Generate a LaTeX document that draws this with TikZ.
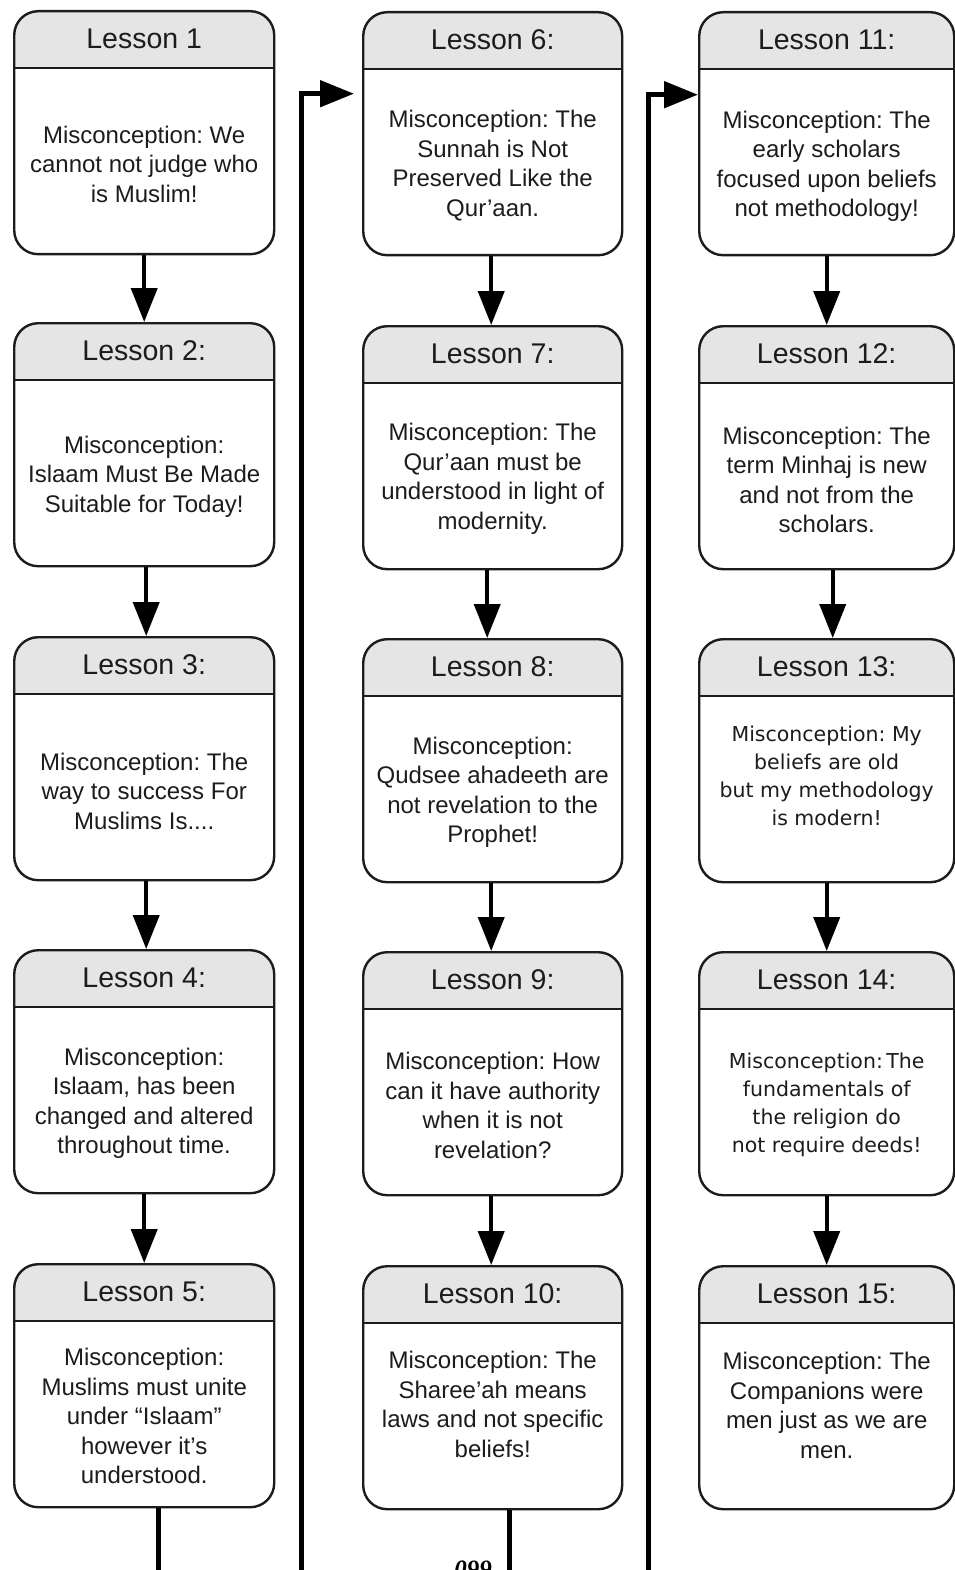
\documentclass[tikz,border=0pt]{standalone}
\usepackage{fontspec}
\setmainfont{Liberation Sans}
\newfontfamily\numfont{Liberation Serif}
\newfontfamily\widesans{DejaVu Sans}
\usetikzlibrary{arrows.meta,calc}
\definecolor{headgray}{RGB}{229,229,229}
\definecolor{ink}{RGB}{28,28,28}
\frenchspacing
\tikzset{
  lessonbox/.style={draw=ink, line width=2.4pt, rounded corners=24pt,
    minimum height=243pt, inner sep=0pt, fill=white,
    path picture={
      \fill[headgray, sharp corners] (path picture bounding box.north west)
        rectangle ([yshift=-57pt]path picture bounding box.north east);
      \draw[ink, line width=2.4pt, sharp corners]
        ([yshift=-57pt]path picture bounding box.north west) --
        ([yshift=-57pt]path picture bounding box.north east);}},
  titletext/.style={font=\fontsize{28.5}{34}\selectfont, text=ink, inner sep=0pt},
  bodytext/.style={font=\fontsize{24}{29.5}\selectfont, text=ink, align=center, inner sep=0pt},
  widebody/.style={font=\widesans\fontsize{20.5}{28}\selectfont, text=ink, align=center, inner sep=0pt},
  flow/.style={draw=black, line width=4pt, -{Triangle[length=34pt,width=26pt]}},
  loopback/.style={draw=black, line width=5pt, -{Triangle[length=34pt,width=26pt]}}
}
% #1 name, #2 left, #3 top, #4 width, #5 title, #6 body centre above bottom, #7 body style, #8 body
\newcommand\lesson[8]{%
  \node[lessonbox, minimum width=#4pt, anchor=north west] (#1) at (#2,#3) {};
  \node[titletext] (#1t) at ([yshift=-28.5pt]#1.north) {#5};
  \node[#7] (#1b) at ([yshift=#6pt]#1.south) {#8};
}
\begin{document}
\begin{tikzpicture}[x=1pt,y=-1pt]
\useasboundingbox (0,0) rectangle (954,1570);

% first column
\lesson{L1}{13}{10}{260}{Lesson 1}{91}{bodytext}{Misconception: We\\cannot not judge who\\is Muslim!}
\lesson{L2}{13}{322}{260}{Lesson 2:}{91}{bodytext}{Misconception:\\Islaam Must Be Made\\Suitable for Today!}
\lesson{L3}{13}{636}{260}{Lesson 3:}{90}{bodytext}{Misconception: The\\way to success For\\Muslims Is....}
\lesson{L4}{13}{949}{260}{Lesson 4:}{91}{bodytext}{Misconception:\\Islaam, has been\\changed and altered\\throughout time.}
\lesson{L5}{13}{1263}{260}{Lesson 5:}{92}{bodytext}{Misconception:\\Muslims must unite\\under “Islaam”\\however it’s\\understood.}

% second column
\lesson{L6}{362}{11}{259}{Lesson 6:}{91}{bodytext}{Misconception: The\\Sunnah is Not\\Preserved Like the\\Qur’aan.}
\lesson{L7}{362}{325}{259}{Lesson 7:}{91.5}{bodytext}{Misconception: The\\Qur’aan must be\\understood in light of\\modernity.}
\lesson{L8}{362}{638}{259}{Lesson 8:}{91}{bodytext}{Misconception:\\Qudsee ahadeeth are\\not revelation to the\\Prophet!}
\lesson{L9}{362}{951}{259}{Lesson 9:}{91}{bodytext}{Misconception: How\\can it have authority\\when it is not\\revelation?}
\lesson{L10}{362}{1265}{259}{Lesson 10:}{106}{bodytext}{Misconception: The\\Sharee’ah means\\laws and not specific\\beliefs!}

% third column
\lesson{L11}{698}{11}{255}{Lesson 11:}{90}{bodytext}{Misconception: The\\early scholars\\focused upon beliefs\\not methodology!}
\lesson{L12}{698}{325}{255}{Lesson 12:}{90.5}{bodytext}{Misconception: The\\term Minhaj is new\\and not from the\\scholars.}
\lesson{L13}{698}{638}{255}{Lesson 13:}{108}{widebody}{Misconception: My\\beliefs are old\\but my methodology\\is modern!}
\lesson{L14}{698}{951}{255}{Lesson 14:}{92}{widebody}{Misconception:\,The\\fundamentals of\\the religion do\\not require deeds!}
\lesson{L15}{698}{1265}{255}{Lesson 15:}{105}{bodytext}{Misconception: The\\Companions were\\men just as we are\\men.}

% arrows inside each column
\draw[flow] (L1) -- (L2);
\draw[flow] ([xshift=2pt]L2.south) -- ([xshift=2pt]L3.north);
\draw[flow] ([xshift=2pt]L3.south) -- ([xshift=2pt]L4.north);
\draw[flow] (L4) -- (L5);
\draw[flow] ([xshift=-1.5pt]L6.south) -- ([xshift=-1.5pt]L7.north);
\draw[flow] ([xshift=-5.5pt]L7.south) -- ([xshift=-5.5pt]L8.north);
\draw[flow] ([xshift=-1.5pt]L8.south) -- ([xshift=-1.5pt]L9.north);
\draw[flow] ([xshift=-1.5pt]L9.south) -- ([xshift=-1.5pt]L10.north);
\draw[flow] (L11) -- (L12);
\draw[flow] ([xshift=6pt]L12.south) -- ([xshift=6pt]L13.north);
\draw[flow] (L13) -- (L14);
\draw[flow] (L14) -- (L15);

% connectors carrying the sequence on to the next column
\coordinate (turnA) at (301,1572);
\coordinate (turnB) at (648,1572);
\draw[loopback, shorten >=8pt] ([xshift=14pt]L5.south) |- (turnA) |- ([yshift=40pt]L6.west);
\draw[loopback] ([xshift=16.5pt]L10.south) |- (turnB) |- ([yshift=39pt]L11.west);

% page number
\node[font=\numfont\bfseries\itshape\fontsize{25}{25}\selectfont, anchor=base, inner sep=0pt] (pageno) at (473,1577) {099};
\end{tikzpicture}
\end{document}
